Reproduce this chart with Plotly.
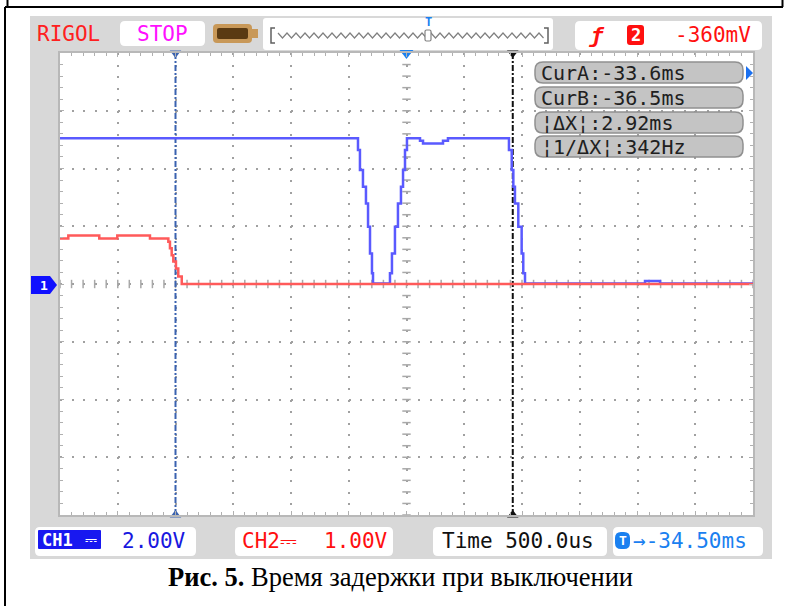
import plotly.graph_objects as go

# ---------------- data ----------------
# CH1 (blue), time in ms, voltage in V (2 V/div)
ch1_t = [-37.5, -34.937, -34.920, -34.903, -34.877, -34.851, -34.833, -34.816, -34.799, -34.790,
         -34.652, -34.643, -34.626, -34.600, -34.574, -34.548, -34.530, -34.513, -34.496,
         -34.409, -34.383, -34.357, -34.210, -34.184, -34.141,
         -33.630, -33.613, -33.589, -33.575, -33.561, -33.532, -33.503, -33.489, -33.474,
         -32.478, -32.435, -32.348, -32.305, -31.5]
ch1_v = [5.05, 5.05, 4.64, 3.95, 3.37, 2.79, 1.98, 1.06, 0.37, 0.02,
         0.02, 0.37, 1.06, 1.98, 2.79, 3.37, 3.95, 4.64, 5.05,
         5.05, 4.96, 4.87, 4.87, 4.96, 5.05,
         5.05, 4.64, 3.95, 3.37, 2.79, 1.98, 1.06, 0.37, 0.02,
         0.02, 0.10, 0.10, 0.02, 0.02]

# CH2 (red), time in ms, voltage in V (1 V/div)
ch2_t = [-37.5, -37.428, -37.160, -37.004, -36.721, -36.562, -36.548, -36.533, -36.519,
         -36.496, -36.476, -36.446, -36.418, -31.5]
ch2_v = [0.79, 0.84, 0.79, 0.84, 0.79, 0.73, 0.62, 0.50, 0.39,
         0.27, 0.13, 0.0, 0.0, 0.0]

cursor_a = -33.58  # ms
cursor_b = -36.5   # ms
trig_pos = -34.5   # ms

readouts = ["CurA:-33.6ms", "CurB:-36.5ms", "¦ΔX¦:2.92ms", "¦1/ΔX¦:342Hz"]
ch1_scale = "2.00V"
ch2_scale = "1.00V"
time_base = "Time 500.0us"
trig_offset = "→-34.50ms"
trig_level = "-360mV"
caption = "<b>Рис. 5.</b> Время задержки при выключении"

# ---------------- layout geometry ----------------
W, H = 786, 606
L, R, T, B = 60, 753, 53, 515
PW, PH = R - L, B - T

def X(px):
    return (px - L) / PW

def Y(py):
    return (B - py) / PH

def rrect(x0, y0, x1, y1, r):
    return (f"M {X(x0+r)},{Y(y0)} L {X(x1-r)},{Y(y0)} Q {X(x1)},{Y(y0)} {X(x1)},{Y(y0+r)} "
            f"L {X(x1)},{Y(y1-r)} Q {X(x1)},{Y(y1)} {X(x1-r)},{Y(y1)} "
            f"L {X(x0+r)},{Y(y1)} Q {X(x0)},{Y(y1)} {X(x0)},{Y(y1-r)} "
            f"L {X(x0)},{Y(y0+r)} Q {X(x0)},{Y(y0)} {X(x0+r)},{Y(y0)} Z")

shapes = []
def add_path(path, fill=None, line_color=None, lw=0, layer="below"):
    shapes.append(dict(type="path", path=path, xref="paper", yref="paper",
                       fillcolor=fill or "rgba(0,0,0,0)",
                       line=dict(color=line_color or "rgba(0,0,0,0)", width=lw), layer=layer))

def add_line(x0, y0, x1, y1, color="black", lw=2, layer="above"):
    shapes.append(dict(type="line", xref="paper", yref="paper", x0=X(x0), y0=Y(y0), x1=X(x1), y1=Y(y1),
                       line=dict(color=color, width=lw), layer=layer))

# scope gray panel and white screen
add_path(f"M {X(30)},{Y(16)} L {X(772)},{Y(16)} L {X(772)},{Y(559)} L {X(30)},{Y(559)} Z", fill="#d8d8d8")
add_path(f"M {X(L)},{Y(T)} L {X(R)},{Y(T)} L {X(R)},{Y(B)} L {X(L)},{Y(B)} Z", fill="white")

# top status boxes
add_path(rrect(120, 21, 205, 46, 5), fill="white")
add_path(rrect(263, 18, 553, 50, 3), fill="white")
add_path(rrect(575, 21, 762, 50, 5), fill="white")
# battery-like icon
add_path(rrect(213, 24, 252, 43, 4), fill="#c89858")
add_path(rrect(217, 28, 248, 39, 2), fill="#5a3a12")
add_path(f"M {X(252)},{Y(29)} L {X(258)},{Y(29)} L {X(258)},{Y(38)} L {X(252)},{Y(38)} Z", fill="#c89858")

# memory bar zigzag
zz = []
px = 278.0
k = 0
while px <= 545:
    zz.append((px, 35 + (3 if k % 2 else -2)))
    px += 4.5
    k += 1
path = "M " + " L ".join(f"{X(a)},{Y(b)}" for a, b in zz)
add_path(path, line_color="#808080", lw=1.2, layer="above")
add_path(f"M {X(275)},{Y(28)} L {X(271)},{Y(28)} L {X(271)},{Y(43)} L {X(275)},{Y(43)}",
         line_color="#606060", lw=1.5, layer="above")
add_path(f"M {X(544)},{Y(28)} L {X(548)},{Y(28)} L {X(548)},{Y(43)} L {X(544)},{Y(43)}",
         line_color="#606060", lw=1.5, layer="above")
add_path(rrect(425, 30, 431, 41, 1.5), fill="white", line_color="#808080", lw=1.2, layer="above")

# red "2" box in trigger area
add_path(rrect(627, 25, 644, 45, 3), fill="#ff1010", layer="above")

# cursor readout boxes
box_y = [62, 87, 112, 136]
for by in box_y:
    add_path(rrect(535, by, 743, by + 21, 8), fill="#c4c4c4", line_color="#909090", lw=1.5, layer="above")
# blue indicator triangle
add_path(f"M {X(746)},{Y(66)} L {X(753)},{Y(73)} L {X(746)},{Y(80)} Z", fill="#1a70f0", layer="above")

# channel 1 marker
add_path(f"M {X(31)},{Y(276)} L {X(50)},{Y(276)} L {X(57)},{Y(285)} L {X(50)},{Y(294)} L {X(31)},{Y(294)} Z",
         fill="#1010ff", layer="above")

# bottom status boxes
add_path(rrect(35, 527, 196, 556, 5), fill="white")
add_path(rrect(38, 530, 101, 549, 1), fill="#1818f0", layer="above")
add_path(rrect(235, 527, 393, 556, 5), fill="white")
add_path(rrect(433, 527, 607, 556, 5), fill="white")
add_path(rrect(613, 527, 763, 556, 5), fill="white")
add_path(rrect(615, 532, 630, 549, 6), fill="#1a80f0", layer="above")

# document frame lines
add_line(5, 7, 5, 606, lw=2)
add_line(5, 7, 783, 7, lw=2)
add_line(7.5, 0, 7.5, 7, lw=2)
add_line(782.5, 0, 782.5, 7, lw=2)

# ---------------- annotations ----------------
MONO = "DejaVu Sans Mono"
ann = []
def text(x, y, s, color, size=21, anchor="left", family=MONO, bg=None):
    d = dict(x=X(x), y=Y(y), xref="paper", yref="paper", text=s, showarrow=False,
             xanchor=anchor, yanchor="middle", font=dict(family=family, size=size, color=color))
    if bg:
        d["bgcolor"] = bg
    ann.append(d)

text(35, 34, "RIGOL", "#ff2020")
text(162, 34, "STOP", "#ff10ff", anchor="center")
text(428, 22, "<b>T</b>", "#1a80f0", size=12, anchor="center")
text(596, 35, "<b><i>ƒ</i></b>", "#ff1010", size=22, anchor="center")
text(635.5, 35, "<b>2</b>", "white", size=17, anchor="center")
text(753, 35, trig_level, "#ff1010", anchor="right")
for by, s in zip(box_y, readouts):
    text(539, by + 11, s, "#202020", size=20)
text(44, 285, "<b>1</b>", "white", size=13, anchor="center")
text(40, 540, "<b>CH1</b>", "white", size=17, anchor="left")
text(99, 540, "⎓", "white", size=15, anchor="right")
text(120, 541, ch1_scale, "#1818e0")
text(240, 541, "CH2⎓", "#ff1010")
text(390, 541, ch2_scale, "#ff1010", anchor="right")
text(440, 541, time_base, "#101010")
text(622.5, 540, "<b>T</b>", "white", size=13, anchor="center")
text(631, 541, trig_offset, "#1a80f0")
text(400, 577, caption, "black", size=26.5, anchor="center", family="Liberation Serif")

# ---------------- traces ----------------
fig = go.Figure()

# tick marks on center lines
cx = [round(-37.5 + 0.1 * i, 3) for i in range(61)]
fig.add_trace(go.Scatter(x=cx, y=[0] * len(cx), mode="markers", hoverinfo="skip",
                         marker=dict(symbol="line-ns", size=6, line=dict(color="#a8a8a8", width=1.5))))
cy = [round(-8 + 0.4 * i, 2) for i in range(41)]
fig.add_trace(go.Scatter(x=[trig_pos] * len(cy), y=cy, mode="markers", hoverinfo="skip",
                         marker=dict(symbol="line-ew", size=6, line=dict(color="#a8a8a8", width=1.5))))

# cursors
fig.add_trace(go.Scatter(x=[cursor_b, cursor_b], y=[-8, 8], mode="lines",
                         line=dict(color="#3a62b0", width=2, dash="6px,2px,2px,2px")))
fig.add_trace(go.Scatter(x=[cursor_a, cursor_a], y=[-8, 8], mode="lines",
                         line=dict(color="#111111", width=2, dash="6px,2px,2px,2px")))

# waveforms
fig.add_trace(go.Scatter(x=ch2_t, y=ch2_v, yaxis="y2", mode="lines", line_shape="hv",
                         line=dict(color="#ff5a5a", width=2.5)))
fig.add_trace(go.Scatter(x=ch1_t, y=ch1_v, mode="lines", line_shape="hv",
                         line=dict(color="#5a5aff", width=2.5)))

# cursor/trigger triangles
fig.add_trace(go.Scatter(x=[cursor_b, cursor_a], y=[8, 8], mode="markers", cliponaxis=False,
                         marker=dict(symbol="triangle-down", size=10, color=["#3a62b0", "#111111"])))
fig.add_trace(go.Scatter(x=[cursor_b, cursor_a], y=[-8, -8], mode="markers", cliponaxis=False,
                         marker=dict(symbol="triangle-up", size=10, color=["#3a62b0", "#111111"])))
fig.add_trace(go.Scatter(x=[trig_pos], y=[8], mode="markers", cliponaxis=False,
                         marker=dict(symbol="triangle-down", size=12, color="#1a80f0")))

axis_common = dict(showticklabels=False, zeroline=False, showline=True, linecolor="#b8b8b8",
                   linewidth=2, mirror="ticks", ticks="inside", ticklen=4, tickcolor="#b0b0b0",
                   gridcolor="#a0a0a0", gridwidth=2, griddash="2px,9.55px", fixedrange=True)

fig.update_layout(
    width=W, height=H,
    margin=dict(l=L, r=W - R, t=T, b=H - B),
    paper_bgcolor="white", plot_bgcolor="rgba(0,0,0,0)",
    showlegend=False,
    xaxis=dict(range=[-37.5, -31.5], dtick=0.5, tick0=0,
               minor=dict(dtick=0.1, ticks="inside", ticklen=3, tickcolor="#b0b0b0", showgrid=False),
               **axis_common),
    yaxis=dict(range=[-8, 8], dtick=2, tick0=0,
               minor=dict(dtick=0.4, ticks="inside", ticklen=3, tickcolor="#b0b0b0", showgrid=False),
               **axis_common),
    yaxis2=dict(range=[-4, 4], overlaying="y", showticklabels=False, showgrid=False,
                zeroline=False, showline=False, ticks="", fixedrange=True),
    shapes=shapes,
    annotations=ann,
)

fig.write_html("out.html", config={"displayModeBar": False},
               post_script="document.body.style.margin='0px';")
